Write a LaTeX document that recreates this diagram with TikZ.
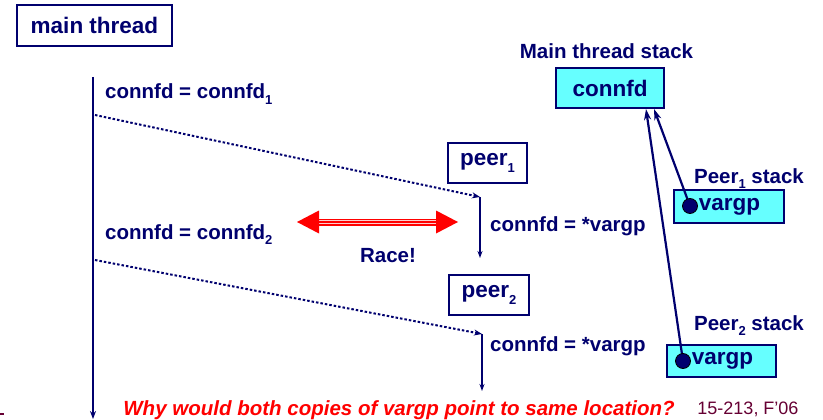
\documentclass[tikz,border=0pt]{standalone}
\usepackage{fontspec}
\setmainfont{Liberation Sans}
\usetikzlibrary{arrows.meta,calc}
\definecolor{navy}{RGB}{0,0,110}
\definecolor{stackfill}{RGB}{102,255,255}
\definecolor{racered}{RGB}{255,0,0}
\definecolor{footer}{RGB}{102,0,51}
\newcommand\sub[1]{\raisebox{-0.28em}{\fontsize{13}{13}\selectfont #1}}
\tikzset{
  txt/.style={text=navy,font=\fontsize{20.5}{24}\bfseries\selectfont,inner sep=0pt},
  bigtxt/.style={text=navy,font=\fontsize{22.5}{26}\bfseries\selectfont},
  threadbox/.style={bigtxt,draw=navy,line width=2pt,inner sep=0pt},
  stackbox/.style={bigtxt,draw=navy,fill=stackfill,line width=2pt,inner sep=0pt},
  timeline/.style={draw=navy,line width=2pt,-{Stealth[length=8pt,width=6pt]}},
  peerline/.style={draw=navy,line width=1.5pt,-{Stealth[length=7pt,width=5pt]}},
  spawn/.style={draw=navy,line width=2pt,dash pattern=on 2.5pt off 2pt,-{Stealth[length=8pt,width=6pt]}},
  pointer/.style={draw=navy,line width=2.2pt,-{Stealth[length=11pt,width=7pt]}},
  ptrdot/.style={circle,fill=navy,draw=black,line width=0.8pt,minimum size=15pt,inner sep=0pt},
}
\begin{document}
\begin{tikzpicture}[x=1pt,y=-1pt]
\useasboundingbox (0,0) rectangle (823,420);

% main thread and its timeline
\node[threadbox,minimum width=155pt,minimum height=41pt] (main) at (94.5,25.5) {main thread};
\coordinate (mtop) at (93,77);
\coordinate (mbot) at (93,419);
\draw[timeline] (mtop) -- (mbot);
\node[txt,anchor=base west] (a1) at (105,99) {connfd = connfd\sub{1}};
\node[txt,anchor=base west] (a2) at (105,239) {connfd = connfd\sub{2}};

% peer threads
\node[threadbox,minimum width=79pt,minimum height=40pt] (peer1) at (487.5,163) {peer\sub{1}};
\node[threadbox,minimum width=80pt,minimum height=40pt] (peer2) at (489,295) {peer\sub{2}};
\coordinate (p1top) at (480,197);
\coordinate (p1bot) at (480,258);
\coordinate (p2top) at (482,334);
\coordinate (p2bot) at (482,391);
\draw[peerline] (p1top) -- (p1bot);
\draw[peerline] (p2top) -- (p2bot);
\node[txt,anchor=base west] (b1) at (490,231) {connfd = *vargp};
\node[txt,anchor=base west] (b2) at (490,351) {connfd = *vargp};

% thread creation
\coordinate (s1) at (95,115);
\coordinate (s2) at (95,260);
\draw[spawn] (s1) -- (p1top);
\draw[spawn] (s2) -- (p2top);

% race marker
\coordinate (raceL) at (297,222);
\coordinate (raceR) at (458,222);
\draw[racered,line width=7pt] ($(raceL)+(20,0)$) -- ($(raceR)+(-20,0)$);
\draw[white!80!racered,line width=4.4pt] ($(raceL)+(20,0)$) -- ($(raceR)+(-20,0)$);
\draw[racered,line width=1.4pt] ($(raceL)+(20,0)$) -- ($(raceR)+(-20,0)$);
\fill[racered] (raceL) -- ($(raceL)+(22,-11.5)$) -- ($(raceL)+(22,11.5)$) -- cycle;
\fill[racered] (raceR) -- ($(raceR)+(-22,-11.5)$) -- ($(raceR)+(-22,11.5)$) -- cycle;
\node[txt,anchor=base] (race) at (388,262) {Race!};

% stacks
\node[txt,anchor=base] (mslbl) at (606.5,59) {Main thread stack};
\node[stackbox,minimum width=108pt,minimum height=40pt] (cfd) at (610,88) {connfd};
\node[txt,anchor=base] (p1lbl) at (749,183) {Peer\sub{1} stack};
\node[stackbox,minimum width=110pt,minimum height=33pt] (v1) at (729,206.5) {\hspace*{1pt}vargp};
\node[txt,anchor=base] (p2lbl) at (749,330) {Peer\sub{2} stack};
\node[stackbox,minimum width=109pt,minimum height=32pt] (v2) at (721.5,361) {\hspace*{2pt}vargp};
\coordinate (t1) at ($(cfd.south east)+(-11,0)$);
\coordinate (t2) at ($(cfd.south east)+(-19,0)$);
\draw[pointer] (690,206) -- (t1);
\draw[pointer] (683,361) -- (t2);
\node[ptrdot] (d1) at (690,206) {};
\node[ptrdot] (d2) at (683,361) {};

% question and footer
\node[anchor=base,text=racered,font=\fontsize{20.5}{24}\bfseries\itshape\selectfont,inner sep=0pt] (q) at (399,415)
  {Why would both copies of vargp point to same location?};
\node[anchor=base,text=footer,font=\fontsize{18}{20}\selectfont,inner sep=0pt] (foot) at (748,414) {15-213, F'06};
\coordinate (m1) at (0,414);
\coordinate (m2) at (4,414);
\draw[footer,line width=1.2pt] (m1) -- (m2);
\end{tikzpicture}
\end{document}
